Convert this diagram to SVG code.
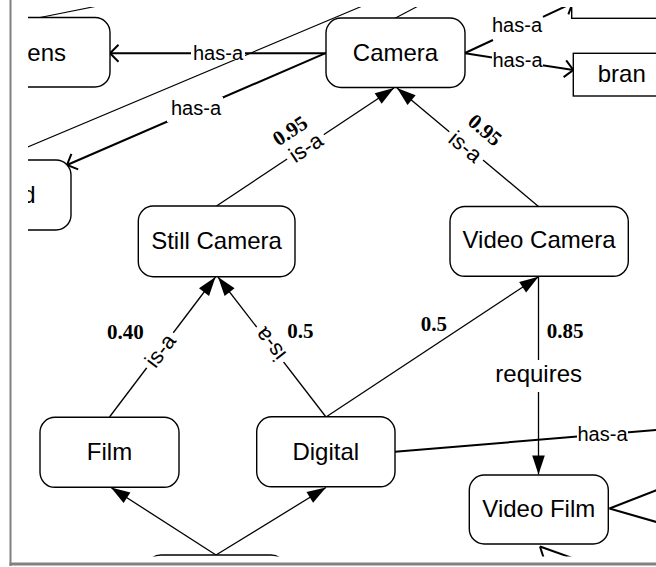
<svg xmlns="http://www.w3.org/2000/svg" width="656" height="567" viewBox="0 0 656 567">
  <style>
    .node { fill: #fff; stroke: #000; stroke-width: 1.4; }
    .box { fill: #fff; stroke: #000; stroke-width: 1.4; }
    .name { font-family: "Liberation Sans", Arial, sans-serif; font-size: 24px; text-anchor: middle; fill: #000; }
    .name.start { text-anchor: start; }
    .name.end { text-anchor: end; }
    .rel { font-family: "Liberation Sans", Arial, sans-serif; font-size: 20px; text-anchor: middle; fill: #000; }
    .isa-t { font-family: "Liberation Sans", Arial, sans-serif; font-size: 22px; text-anchor: middle; fill: #000; }
    .num { font-family: "Liberation Serif", "Times New Roman", serif; font-weight: bold; font-size: 21px; fill: #000; }
    .num.mid { text-anchor: middle; }
    .isa { stroke: #000; stroke-width: 1.3; fill: none; }
    .hasa { stroke: #000; stroke-width: 2; fill: none; }
    .thin { stroke: #000; stroke-width: 1.1; fill: none; }
    .bg { fill: #fff; }
    .frame { fill: #808080; }
  </style>
  <defs>
    <clipPath id="view">
      <rect x="28" y="7" width="628" height="549.5"/>
    </clipPath>
    <marker id="tri" markerUnits="userSpaceOnUse" markerWidth="20" markerHeight="14" refX="0" refY="0" orient="auto" overflow="visible">
      <path d="M0,0 L-19,-6.3 L-19,6.3 Z" fill="#000"/>
    </marker>
    <marker id="open" markerUnits="userSpaceOnUse" markerWidth="12" markerHeight="20" refX="0" refY="0" orient="auto" overflow="visible">
      <path d="M-8.5,-8.5 L0,0 L-8.5,8.5" fill="none" stroke="#000" stroke-width="2"/>
    </marker>
  </defs>

  <rect width="656" height="567" fill="#fff"/>

  <g clip-path="url(#view)">
    <g id="connectors">
      <!-- long edges passing through the view -->
      <line class="thin" x1="0" y1="158.6" x2="380" y2="-1.4"/>
      <line class="thin" x1="395" y1="18.3" x2="425" y2="2.4"/>
      <line class="thin" x1="40" y1="17.5" x2="105" y2="4.5"/>

      <!-- has-a edges from Camera -->
      <line class="hasa" x1="326" y1="53.3" x2="110" y2="53.3" marker-end="url(#open)"/>
      <line class="hasa" x1="325" y1="53.3" x2="67" y2="165" marker-end="url(#open)"/>
      <line class="hasa" x1="465" y1="53" x2="493" y2="40"/>
      <line class="hasa" x1="543" y1="16.8" x2="572.5" y2="3.1" marker-end="url(#open)"/>
      <line class="hasa" x1="465" y1="53.3" x2="573.3" y2="70" marker-end="url(#open)"/>

      <!-- is-a edges -->
      <line class="isa" x1="216.5" y1="206" x2="394" y2="88" marker-end="url(#tri)"/>
      <line class="isa" x1="538.5" y1="206.5" x2="397" y2="88" marker-end="url(#tri)"/>
      <line class="isa" x1="109.5" y1="417" x2="215.5" y2="277" marker-end="url(#tri)"/>
      <line class="isa" x1="326" y1="417" x2="218" y2="277" marker-end="url(#tri)"/>
      <line class="isa" x1="326" y1="417" x2="538.5" y2="276.7" marker-end="url(#tri)"/>
      <line class="isa" x1="538.5" y1="276.7" x2="538.5" y2="474.5" marker-end="url(#tri)"/>
      <line class="isa" x1="216" y1="555" x2="111" y2="487.5" marker-end="url(#tri)"/>
      <line class="isa" x1="216" y1="555" x2="326" y2="487.5" marker-end="url(#tri)"/>

      <!-- Digital has-a, and edges meeting Video Film -->
      <line class="hasa" x1="395" y1="451.7" x2="700" y2="426.4"/>
      <line class="hasa" x1="609.5" y1="508.5" x2="700" y2="473.2"/>
      <line class="hasa" x1="609.5" y1="508.5" x2="700" y2="534.5"/>
      <line class="hasa" x1="540" y1="546.5" x2="575" y2="559"/>
      <line class="hasa" x1="540" y1="546.5" x2="544" y2="559"/>

      <!-- label backgrounds -->
      <rect class="bg" x="191" y="46" width="54" height="14"/>
      <rect class="bg" x="167" y="97" width="56" height="25"/>
      <rect class="bg" x="492" y="52" width="51" height="19"/>
      <rect class="bg" x="577" y="427" width="51" height="17"/>
      <rect class="bg" x="494" y="360" width="90" height="32"/>
      <rect class="bg" x="-22" y="-8" width="44" height="16" transform="translate(305.7,147.2) rotate(-33.6)"/>
      <rect class="bg" x="-22" y="-8" width="44" height="16" transform="translate(465.7,146.5) rotate(39.8)"/>
      <rect class="bg" x="-22" y="-8" width="44" height="16" transform="translate(160,350.3) rotate(-52.9)"/>
      <rect class="bg" x="-22" y="-8" width="44" height="16" transform="translate(270,344.6) rotate(-127.6)"/>

      <!-- labels -->
      <text class="rel" x="218" y="60">has-a</text>
      <text class="rel" x="196" y="115">has-a</text>
      <text class="rel" x="517" y="32.3">has-a</text>
      <text class="rel" x="517.5" y="66.7">has-a</text>
      <text class="rel" x="602.5" y="440.7">has-a</text>
      <text class="name" x="538.7" y="381.7">requires</text>

      <text class="isa-t" transform="translate(305.7,147.2) rotate(-33.6)" y="7.8">is-a</text>
      <text class="isa-t" transform="translate(465.7,146.5) rotate(39.8)" y="7.8">is-a</text>
      <text class="isa-t" transform="translate(160,350.3) rotate(-52.9)" y="7.8">is-a</text>
      <text class="isa-t" transform="translate(270,344.6) rotate(-127.6)" y="7.8">is-a</text>

      <text class="num mid" transform="translate(290,130.7) rotate(-33.6)" y="7">0.95</text>
      <text class="num mid" transform="translate(485,130) rotate(39.8)" y="7">0.95</text>
      <text class="num" x="107" y="338.5">0.40</text>
      <text class="num" x="287.3" y="338.3">0.5</text>
      <text class="num" x="420.7" y="330.5">0.5</text>
      <text class="num" x="546.7" y="337.5">0.85</text>
    </g>

    <g id="lens">
      <rect class="node" x="-30" y="17.5" width="140" height="69.5" rx="15"/>
      <text class="name start" x="27.3" y="60.5">ens</text>
    </g>
    <g id="camera">
      <rect class="node" x="326" y="18" width="139" height="69.5" rx="15"/>
      <text class="name" x="395.5" y="60.5">Camera</text>
    </g>
    <g id="upper-right-box">
      <rect class="box" x="571.7" y="-52" width="140" height="70.3"/>
    </g>
    <g id="brand">
      <rect class="box" x="573.3" y="53.3" width="140" height="42.7"/>
      <text class="name start" x="597.7" y="82">bran</text>
    </g>
    <g id="left-box">
      <rect class="node" x="-69" y="160" width="140" height="70" rx="15"/>
      <text class="name end" x="35.5" y="202.5">d</text>
    </g>
    <g id="still-camera">
      <rect class="node" x="138.3" y="206" width="156.7" height="70.7" rx="15"/>
      <text class="name" x="216.5" y="248.5">Still Camera</text>
    </g>
    <g id="video-camera">
      <rect class="node" x="450" y="206.5" width="178.3" height="69.8" rx="15"/>
      <text class="name" x="539" y="247.5">Video Camera</text>
    </g>
    <g id="film">
      <rect class="node" x="40" y="417.3" width="139" height="70" rx="15"/>
      <text class="name" x="109.5" y="460">Film</text>
    </g>
    <g id="digital">
      <rect class="node" x="256.7" y="416.8" width="138.3" height="70" rx="15"/>
      <text class="name" x="325.8" y="460">Digital</text>
    </g>
    <g id="video-film">
      <rect class="node" x="469.3" y="475" width="139" height="69" rx="15"/>
      <text class="name" x="538.8" y="516.7">Video Film</text>
    </g>
    <g id="bottom-node">
      <rect class="node" x="146" y="555" width="140" height="70" rx="15"/>
    </g>
  </g>

  <!-- window frame -->
  <rect class="frame" x="9.5" y="0" width="2" height="566"/>
  <rect class="frame" x="9.5" y="562.5" width="646.5" height="3"/>
</svg>
